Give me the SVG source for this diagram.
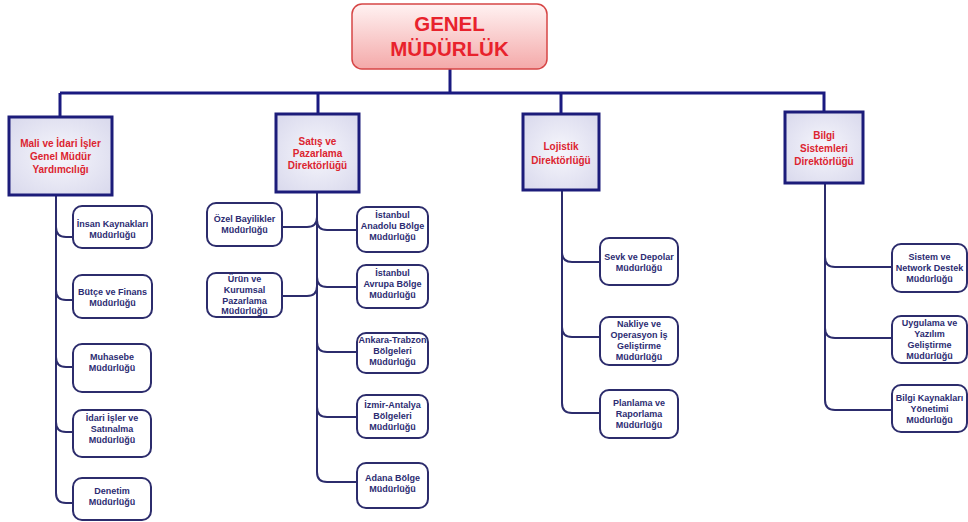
<svg xmlns="http://www.w3.org/2000/svg" width="968" height="522" viewBox="0 0 968 522">
<defs>
<linearGradient id="gTop" x1="0" y1="0" x2="0" y2="1">
<stop offset="0" stop-color="#fff2f2"/><stop offset="1" stop-color="#f4a9a9"/>
</linearGradient>
<radialGradient id="gDir" cx="0.5" cy="0.5" r="0.7">
<stop offset="0" stop-color="#f6f6fc"/><stop offset="1" stop-color="#d8d8ec"/>
</radialGradient>
<style>
.top{fill:url(#gTop);stroke:#d64545;stroke-width:1.5}
.dir{fill:url(#gDir);stroke:#1c1c7a;stroke-width:3}
.sub{fill:#fff;stroke:#2c2c6c;stroke-width:2}
.tt{font-family:"Liberation Sans",Arial,sans-serif;font-weight:bold;font-size:20.5px;fill:#e8222c;text-anchor:middle}
.td{font-family:"Liberation Sans",Arial,sans-serif;font-weight:bold;font-size:10px;fill:#dc2430;text-anchor:middle}
.ts{font-family:"Liberation Sans",Arial,sans-serif;font-weight:bold;font-size:9px;fill:#2c2c72;text-anchor:middle}
.bar{fill:none;stroke:#1a1a80;stroke-width:3}
.br{fill:none;stroke:#2c2c6c;stroke-width:2}
</style>
</defs>
<g id="connectors">
<path class="bar" d="M450,69 V93 M60,93 H824 V112 M60,93 V117 M318,93 V114 M561,93 V114"/>
<path class="br" d="M56,195 V493 Q56,503 66,503 H73 M56,227 Q56,237 66,237 H73 M56,290 Q56,300 66,300 H73 M56,357 Q56,367 66,367 H73 M56,422 Q56,432 66,432 H73"/>
<path class="br" d="M317,192 V472 Q317,482 327,482 H357 M317,217 Q317,227 307,227 H282 M317,286 Q317,296 307,296 H282 M317,220 Q317,230 327,230 H357 M317,277 Q317,287 327,287 H357 M317,342 Q317,352 327,352 H357 M317,407 Q317,417 327,417 H357"/>
<path class="br" d="M562,190 V403 Q562,413 572,413 H600 M562,252 Q562,262 572,262 H600 M562,327 Q562,337 572,337 H600"/>
<path class="br" d="M825,183 V400 Q825,410 835,410 H892 M825,257 Q825,267 835,267 H892 M825,328 Q825,338 835,338 H892"/>
</g>
<g id="genel">
<rect class="top" x="352" y="4" width="195" height="65" rx="10"/>
<text class="tt" x="449.5" y="31">GENEL</text>
<text class="tt" x="449.5" y="56">MÜDÜRLÜK</text>
</g>
<g id="mali">
<rect class="dir" x="9" y="117" width="103" height="78"/>
<text class="td" x="60.5" y="147">Mali ve İdari İşler</text>
<text class="td" x="60.5" y="160">Genel Müdür</text>
<text class="td" x="60.5" y="173">Yardımcılığı</text>
</g>
<g id="satis">
<rect class="dir" x="276" y="114" width="83" height="78"/>
<text class="td" x="317.5" y="145">Satış ve</text>
<text class="td" x="317.5" y="157">Pazarlama</text>
<text class="td" x="317.5" y="169">Direktörlüğü</text>
</g>
<g id="lojistik">
<rect class="dir" x="523" y="114" width="76" height="76"/>
<text class="td" x="561" y="150">Lojistik</text>
<text class="td" x="561" y="163.5">Direktörlüğü</text>
</g>
<g id="bilgi">
<rect class="dir" x="785" y="112" width="78" height="71"/>
<text class="td" x="824" y="138.5">Bilgi</text>
<text class="td" x="824" y="152">Sistemleri</text>
<text class="td" x="824" y="165">Direktörlüğü</text>
</g>
<g id="insan">
<rect class="sub" x="73" y="206" width="79" height="42" rx="9"/>
<text class="ts" x="112.5" y="226.5">İnsan Kaynakları</text>
<text class="ts" x="112.5" y="237.5">Müdürlüğü</text>
</g>
<g id="butce">
<rect class="sub" x="73" y="275" width="79" height="43" rx="9"/>
<text class="ts" x="112.5" y="295">Bütçe ve Finans</text>
<text class="ts" x="112.5" y="306">Müdürlüğü</text>
</g>
<g id="muhasebe">
<rect class="sub" x="73" y="344" width="78" height="48" rx="9"/>
<text class="ts" x="112" y="360">Muhasebe</text>
<text class="ts" x="112" y="371">Müdürlüğü</text>
</g>
<g id="idari">
<rect class="sub" x="73" y="410" width="78" height="47" rx="9"/>
<text class="ts" x="112" y="421">İdari İşler ve</text>
<text class="ts" x="112" y="432">Satınalma</text>
<text class="ts" x="112" y="443">Müdürlüğü</text>
</g>
<g id="denetim">
<rect class="sub" x="73" y="478" width="78" height="42" rx="9"/>
<text class="ts" x="112" y="494">Denetim</text>
<text class="ts" x="112" y="505">Müdürlüğü</text>
</g>
<g id="ozel">
<rect class="sub" x="207" y="203" width="75" height="43" rx="9"/>
<text class="ts" x="244.5" y="222">Özel Bayilikler</text>
<text class="ts" x="244.5" y="233">Müdürlüğü</text>
</g>
<g id="urun">
<rect class="sub" x="207" y="273" width="75" height="44" rx="9"/>
<text class="ts" x="244.5" y="281.5">Ürün ve</text>
<text class="ts" x="244.5" y="292.5">Kurumsal</text>
<text class="ts" x="244.5" y="303.5">Pazarlama</text>
<text class="ts" x="244.5" y="314">Müdürlüğü</text>
</g>
<g id="anadolu">
<rect class="sub" x="357" y="207" width="71" height="45" rx="9"/>
<text class="ts" x="392.5" y="218">İstanbul</text>
<text class="ts" x="392.5" y="229">Anadolu Bölge</text>
<text class="ts" x="392.5" y="240">Müdürlüğü</text>
</g>
<g id="avrupa">
<rect class="sub" x="357" y="265" width="71" height="43" rx="9"/>
<text class="ts" x="392.5" y="275.5">İstanbul</text>
<text class="ts" x="392.5" y="286.5">Avrupa Bölge</text>
<text class="ts" x="392.5" y="297.5">Müdürlüğü</text>
</g>
<g id="ankara">
<rect class="sub" x="357" y="333" width="71" height="40" rx="9"/>
<text class="ts" x="392.5" y="342.5">Ankara-Trabzon</text>
<text class="ts" x="392.5" y="353.5">Bölgeleri</text>
<text class="ts" x="392.5" y="364.5">Müdürlüğü</text>
</g>
<g id="izmir">
<rect class="sub" x="357" y="395" width="71" height="43" rx="9"/>
<text class="ts" x="392.5" y="408">İzmir-Antalya</text>
<text class="ts" x="392.5" y="419">Bölgeleri</text>
<text class="ts" x="392.5" y="430">Müdürlüğü</text>
</g>
<g id="adana">
<rect class="sub" x="357" y="463" width="71" height="45" rx="9"/>
<text class="ts" x="392.5" y="481">Adana Bölge</text>
<text class="ts" x="392.5" y="492">Müdürlüğü</text>
</g>
<g id="sevk">
<rect class="sub" x="600" y="238" width="78" height="47" rx="9"/>
<text class="ts" x="639" y="260">Sevk ve Depolar</text>
<text class="ts" x="639" y="271">Müdürlüğü</text>
</g>
<g id="nakliye">
<rect class="sub" x="600" y="317" width="78" height="48" rx="9"/>
<text class="ts" x="639" y="327">Nakliye ve</text>
<text class="ts" x="639" y="338">Operasyon İş</text>
<text class="ts" x="639" y="349">Geliştirme</text>
<text class="ts" x="639" y="360">Müdürlüğü</text>
</g>
<g id="planlama">
<rect class="sub" x="600" y="390" width="78" height="48" rx="9"/>
<text class="ts" x="639" y="406">Planlama ve</text>
<text class="ts" x="639" y="417">Raporlama</text>
<text class="ts" x="639" y="428">Müdürlüğü</text>
</g>
<g id="sistem">
<rect class="sub" x="892" y="244" width="75" height="48" rx="9"/>
<text class="ts" x="929.5" y="260">Sistem ve</text>
<text class="ts" x="929.5" y="271">Network Destek</text>
<text class="ts" x="929.5" y="282">Müdürlüğü</text>
</g>
<g id="uygulama">
<rect class="sub" x="892" y="316" width="75" height="47" rx="9"/>
<text class="ts" x="929.5" y="326">Uygulama ve</text>
<text class="ts" x="929.5" y="337">Yazılım</text>
<text class="ts" x="929.5" y="348">Geliştirme</text>
<text class="ts" x="929.5" y="359">Müdürlüğü</text>
</g>
<g id="kaynaklari">
<rect class="sub" x="892" y="385" width="75" height="47" rx="9"/>
<text class="ts" x="929.5" y="401">Bilgi Kaynakları</text>
<text class="ts" x="929.5" y="412">Yönetimi</text>
<text class="ts" x="929.5" y="423">Müdürlüğü</text>
</g>
</svg>
